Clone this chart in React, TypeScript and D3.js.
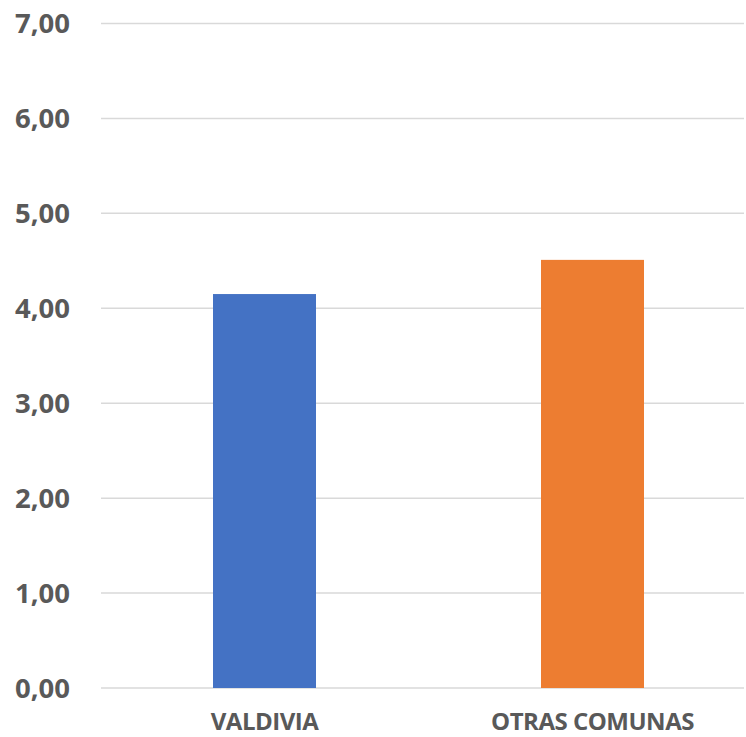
import React from "react";
import * as d3 from "d3";

const categories = ["VALDIVIA", "OTRAS COMUNAS"];
const values = [4.15, 4.51];
const colors = ["#4472C4", "#ED7D31"];
const yTicks = [0, 1, 2, 3, 4, 5, 6, 7];

export default function App() {
  const W = 746, H = 737;
  const left = 101, right = 744, top = 23.5, bottom = 688;
  const y = d3.scaleLinear().domain([0, 7]).range([bottom, top]);
  const x = d3.scaleBand<string>().domain(categories).range([100.5, 756.5]).paddingInner(0.686).paddingOuter(0.343);
  const fmt = (v: number) => v.toFixed(2).replace(".", ",");
  const font = "'Open Sans', sans-serif";
  return (
    <svg width={W} height={H} style={{ position: "absolute", left: 0, top: 0, background: "#fff" }}>
      {yTicks.map((t) => (
        <g key={t}>
          <line x1={left} x2={right} y1={y(t)} y2={y(t)} stroke="#D9D9D9" strokeWidth={1.5} />
          <text x={70} y={y(t)} dy="0.36em" textAnchor="end" fontFamily={font} fontWeight={700} fontSize={27.5} fill="#595959">
            {fmt(t)}
          </text>
        </g>
      ))}
      {categories.map((c, i) => (
        <g key={c}>
          <rect x={x(c)} y={y(values[i])} width={x.bandwidth()} height={bottom - y(values[i])} fill={colors[i]} />
          <text x={(x(c) as number) + x.bandwidth() / 2} y={730} textAnchor="middle" fontFamily={font} fontWeight={700} fontSize={24} fill="#595959" letterSpacing={-0.5}>
            {c}
          </text>
        </g>
      ))}
    </svg>
  );
}
